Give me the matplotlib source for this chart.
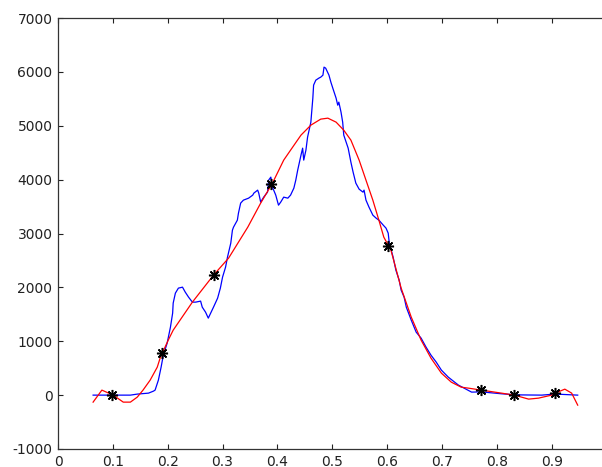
import matplotlib
matplotlib.use("Agg")
import matplotlib.pyplot as plt

# Measured (noisy) signal - blue
data_x = [0.064, 0.095, 0.132, 0.1445, 0.165, 0.174, 0.177, 0.183, 0.188, 0.192,
          0.199, 0.205, 0.209, 0.210, 0.214, 0.2195, 0.227, 0.232, 0.238, 0.245,
          0.251, 0.260, 0.263, 0.269, 0.274, 0.2835, 0.291, 0.296, 0.300, 0.3055,
          0.309, 0.315, 0.318, 0.320, 0.327, 0.329, 0.333, 0.338, 0.3475, 0.355,
          0.357, 0.364, 0.366, 0.3695, 0.375, 0.382, 0.384, 0.388, 0.391, 0.397,
          0.402, 0.406, 0.4115, 0.419, 0.424, 0.430, 0.4335, 0.437, 0.443, 0.446,
          0.448, 0.452, 0.455, 0.457, 0.461, 0.4646, 0.466, 0.470, 0.4756, 0.479,
          0.483, 0.485, 0.488, 0.494, 0.4975, 0.501, 0.507, 0.510, 0.512, 0.516,
          0.519, 0.521, 0.529, 0.534, 0.538, 0.543, 0.549, 0.556, 0.558, 0.5615,
          0.567, 0.574, 0.580, 0.585, 0.593, 0.598, 0.602, 0.604, 0.611, 0.616,
          0.622, 0.6256, 0.631, 0.635, 0.644, 0.653, 0.662, 0.671, 0.680, 0.6896,
          0.699, 0.7115, 0.730, 0.754, 0.772, 0.8085, 0.835, 0.882, 0.906, 0.9475]
data_y = [0, 0, 0, 19, 37, 74, 93, 278, 520, 742,
          965, 1262, 1522, 1708, 1893, 1986, 2004, 1912, 1819, 1726,
          1726, 1745, 1633, 1540, 1429, 1633, 1800, 1986, 2190, 2376,
          2561, 2821, 3062, 3118, 3248, 3378, 3564, 3619, 3656, 3712,
          3749, 3805, 3749, 3582, 3675, 3768, 3990, 4046, 3860, 3712,
          3526, 3582, 3675, 3656, 3712, 3842, 3990, 4176, 4454, 4584,
          4362, 4547, 4788, 4881, 5067, 5512, 5754, 5846, 5884, 5902,
          5939, 6088, 6069, 5939, 5809, 5698, 5512, 5382, 5438, 5252,
          5067, 4826, 4584, 4324, 4140, 3935, 3823, 3768, 3805, 3619,
          3489, 3341, 3285, 3248, 3155, 3100, 3007, 2821, 2561, 2320,
          2134, 1949, 1819, 1633, 1392, 1169, 1058, 891, 742, 612,
          464, 334, 186, 56, 60, 25, 5, 0, 20, 0]

# Smooth fitted curve - red
fit_x = [0.064, 0.080, 0.1006, 0.119, 0.132, 0.1445, 0.155, 0.168, 0.181, 0.1866,
         0.201, 0.210, 0.245, 0.2835, 0.311, 0.346, 0.3695, 0.391, 0.4115, 0.424,
         0.443, 0.461, 0.479, 0.492, 0.507, 0.521, 0.534, 0.549, 0.5615, 0.574,
         0.585, 0.594, 0.607, 0.6256, 0.644, 0.662, 0.680, 0.699, 0.717, 0.735,
         0.748, 0.772, 0.8085, 0.832, 0.858, 0.876, 0.900, 0.912, 0.924, 0.9365,
         0.9475]
fit_y = [-130, 93, 0, -130, -130, -37, 93, 278, 520, 700,
         1021, 1206, 1726, 2227, 2543, 3118, 3564, 3935, 4362, 4547,
         4826, 5011, 5123, 5141, 5067, 4918, 4733, 4362, 3990, 3619,
         3248, 2932, 2691, 1986, 1448, 1021, 687, 408, 241, 148,
         130, 93, 37, 0, -74, -56, 0, 60, 111, 37,
         -186]

# Knot points - black stars
knot_x = [0.099, 0.190, 0.284, 0.389, 0.602, 0.772, 0.832, 0.906]
knot_y = [0, 780, 2227, 3916, 2765, 93, 0, 37]

x_ticks = [0, 0.1, 0.2, 0.3, 0.4, 0.5, 0.6, 0.7, 0.8, 0.9, 1.0]
x_labels = ["0", "0.1", "0.2", "0.3", "0.4", "0.5", "0.6", "0.7", "0.8", "0.9", "1"]
y_ticks = [-1000, 0, 1000, 2000, 3000, 4000, 5000, 6000, 7000]
y_labels = ["-1000", "0", "1000", "2000", "3000", "4000", "5000", "6000", "7000"]

plt.rcParams['font.family'] = ['DejaVu Sans']

fig = plt.figure(figsize=(6.02, 4.67), dpi=100)
ax = fig.add_axes([58 / 602, 18 / 467, 548.5 / 602, 431 / 467])

ax.plot(data_x, data_y, color='#0000ff', lw=0.9)
ax.plot(fit_x, fit_y, color='#ff0000', lw=0.9)
ax.plot(knot_x, knot_y, linestyle='none', marker=(8, 2, 0), markersize=8,
        markeredgewidth=1.1, color='black')

ax.set_xlim(0, 1)
ax.set_ylim(-1000, 7000)
ax.set_xticks(x_ticks)
ax.set_xticklabels(x_labels)
ax.set_yticks(y_ticks)
ax.set_yticklabels(y_labels)
ax.tick_params(direction='in', length=3.6, width=0.8, colors='#222222',
               labelsize=10, top=True, right=True, pad=4)
for s in ax.spines.values():
    s.set_color('#333333')
    s.set_linewidth(0.9)

fig.savefig('out.png', dpi=100)
